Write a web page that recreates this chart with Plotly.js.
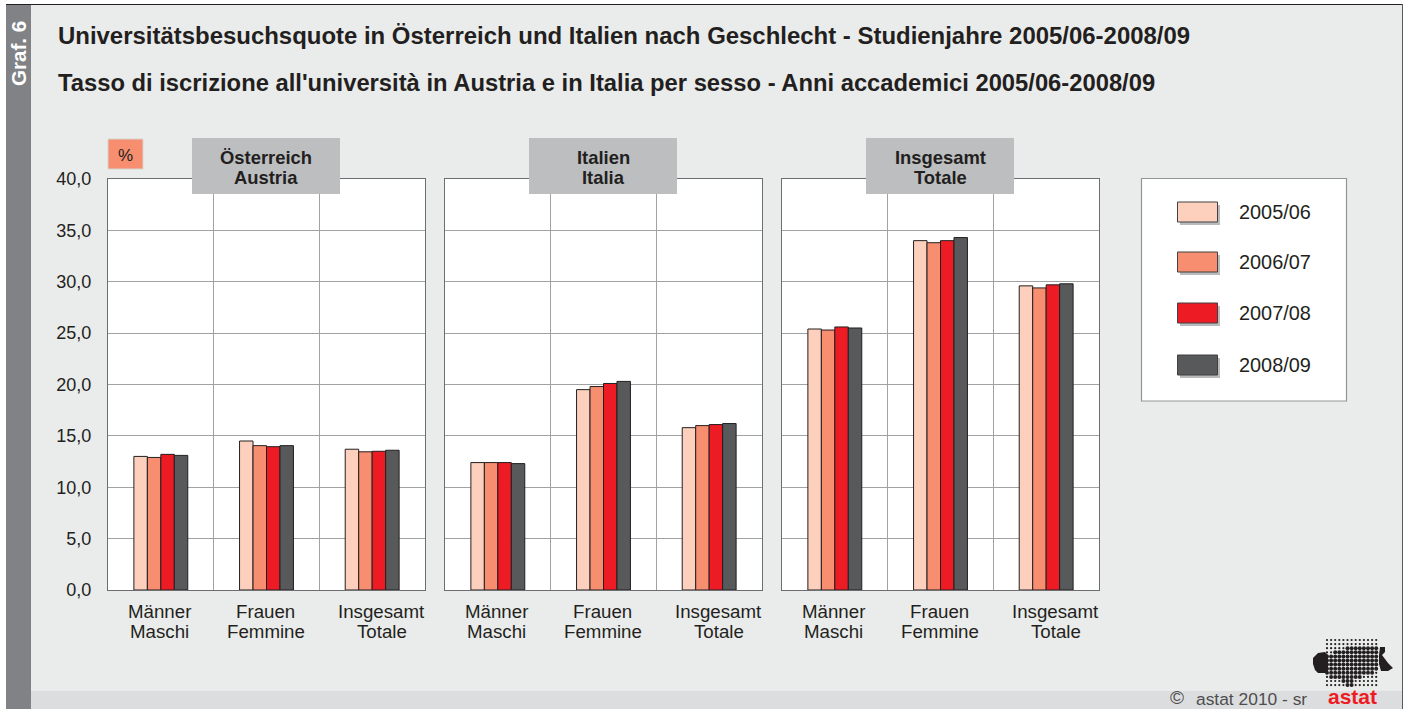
<!DOCTYPE html>
<html><head><meta charset="utf-8">
<script src="https://cdn.plot.ly/plotly-3.0.1.min.js"></script>
<style>html,body{margin:0;padding:0;background:#fff;overflow:hidden}</style>
</head><body><div id="chart" style="width:1406px;height:709px"></div>
<script>
const categories = ['Männer', 'Frauen', 'Insgesamt'];
const categoriesIt = ['Maschi', 'Femmine', 'Totale'];
const seriesNames = ['2005/06', '2006/07', '2007/08', '2008/09'];
const seriesColors = ['#fdd0bd', '#f68e6f', '#ed1c24', '#58595b'];
const panelDe = ['Österreich', 'Italien', 'Insgesamt'];
const panelIt = ['Austria', 'Italia', 'Totale'];
const austria = [[13.0, 14.5, 13.7], [12.9, 14.05, 13.45], [13.2, 13.95, 13.5], [13.1, 14.05, 13.6]];
const italy = [[12.4, 19.5, 15.8], [12.4, 19.8, 16.0], [12.4, 20.1, 16.1], [12.3, 20.3, 16.2]];
const total = [[25.4, 34.0, 29.6], [25.3, 33.8, 29.4], [25.6, 34.0, 29.7], [25.5, 34.3, 29.8]];
const panels = [austria, italy, total];
const titleDe = 'Universitätsbesuchsquote in Österreich und Italien nach Geschlecht - Studienjahre 2005/06-2008/09';
const titleIt = "Tasso di iscrizione all'università in Austria e in Italia per sesso - Anni accademici 2005/06-2008/09";

const W = 1406, H = 709, FONT = 'Liberation Sans, Arial, sans-serif', INK = '#231f20';
const px = x => x / W, py = y => 1 - y / H;
const panelLeft = [108, 445, 782], panelW = 317, plotTop = 179, plotBottom = 590;

function rect(x0, y0, x1, y1, fill, line, layer, lw) {
  return {type: 'rect', xref: 'paper', yref: 'paper', x0: px(x0), x1: px(x1), y0: py(y0), y1: py(y1),
    fillcolor: fill, line: {color: line || fill, width: line ? (lw || 1) : 0}, layer: layer || 'above'};
}
function note(x, y, text, size, color, anchor, extra) {
  return Object.assign({xref: 'paper', yref: 'paper', x: px(x), y: py(y), text, showarrow: false,
    xanchor: anchor || 'left', yanchor: 'middle', font: {family: FONT, size, color: color || INK}}, extra || {});
}

const traces = [];
const layout = {
  width: W, height: H, margin: {l: 0, r: 0, t: 0, b: 0}, showlegend: false,
  paper_bgcolor: '#eaeceb', plot_bgcolor: '#ffffff', separators: ',.',
  barmode: 'group', bargap: 0.49, bargroupgap: 0,
  title: {text: '<b>' + titleDe + '</b>', x: 58 / W, xanchor: 'left', y: py(36), yanchor: 'middle',
    font: {family: FONT, size: 23.94, color: INK}},
  shapes: [], annotations: []
};
const sh = layout.shapes, an = layout.annotations;

panels.forEach((panel, p) => {
  const s = p === 0 ? '' : String(p + 1);
  panel.forEach((vals, i) => traces.push({
    type: 'bar', x: categories, y: vals, name: seriesNames[i], xaxis: 'x' + s, yaxis: 'y' + s,
    marker: {color: seriesColors[i], line: {color: INK, width: 1}}, hoverinfo: 'x+y+name'
  }));
  layout['xaxis' + s] = {
    domain: [px(panelLeft[p]), px(panelLeft[p] + panelW)], anchor: 'y' + s, type: 'category',
    range: [-0.5, 2.5], autorange: false,
    tickson: 'boundaries', ticks: '', showticklabels: false, showgrid: true, gridcolor: '#a0a2a4', gridwidth: 1,
    showline: true, mirror: true, linecolor: '#6d6e71', linewidth: 1, zeroline: false
  };
  layout['yaxis' + s] = {
    domain: [py(plotBottom), py(plotTop)], anchor: 'x' + s, range: [0, 40], dtick: 5, tick0: 0,
    tickformat: '.1f', showticklabels: p === 0, ticks: '', showgrid: true, gridcolor: '#a0a2a4', gridwidth: 1,
    showline: true, mirror: true, linecolor: '#6d6e71', linewidth: 1, zeroline: false, ticklabelstandoff: 12,
    tickfont: {family: FONT, size: 18, color: INK}, automargin: false
  };
  categories.forEach((c, k) => {
    const shift = k === 2 ? 9.6 : -0.9;
    const base = {xref: 'x' + s, yref: 'paper', x: c, showarrow: false, xanchor: 'center', yanchor: 'middle',
      xshift: shift, font: {family: FONT, size: 18.7, color: INK}};
    an.push(Object.assign({}, base, {y: py(611), text: c}));
    an.push(Object.assign({}, base, {y: py(631.5), text: categoriesIt[k]}));
  });
});

// page frame
sh.push(rect(0, 0, 6, 709, '#ffffff', null, 'below'));
sh.push(rect(0, 0, 1406, 4, '#ffffff', null, 'below'));
sh.push(rect(1403, 0, 1406, 709, '#ffffff', null, 'below'));
sh.push(rect(6, 691, 1402, 709, '#dcddde', null, 'below'));
sh.push(rect(6, 4, 31, 709, '#808285', null, 'below'));
sh.push(rect(6, 4, 1402, 5, '#231f20', null, 'below'));
sh.push(rect(1402, 4, 1403, 709, '#58595b', null, 'below'));
// unit + panel labels
sh.push(rect(108, 139, 143, 169, '#f68e6f', '#d8d4d0'));
an.push(note(125.5, 155, '%', 17, INK, 'center'));
panelLeft.forEach((l, p) => {
  sh.push(rect(l + 84, 138, l + 232, 194, '#bcbec0'));
  an.push(note(l + 158, 157, '<b>' + panelDe[p] + '</b>', 18.4, INK, 'center'));
  an.push(note(l + 158, 177, '<b>' + panelIt[p] + '</b>', 18.4, INK, 'center'));
});
// legend
sh.push(rect(1141.5, 178.5, 1346.5, 401, '#ffffff', '#939598', 'above', 1.2));
const legendY = [212, 262, 313, 365];
seriesNames.forEach((n, i) => {
  const y = legendY[i];
  sh.push(rect(1180, y - 7, 1220, y + 13, '#b9babc'));
  sh.push(rect(1177.5, y - 10, 1217.5, y + 10, seriesColors[i], '#414042'));
  an.push(note(1237, y, n, 19.9, INK));
});
// texts
an.push(note(56, 82, '<b>' + titleIt + '</b>', 23.77));
an.push(note(18.5, 53.5, '<b>Graf. 6</b>', 20.6, '#ffffff', 'center', {textangle: -90}));
an.push(note(1167.5, 697.5, '©', 19, '#4d4d4f'));
an.push(note(1193.5, 698.5, 'astat 2010 - sr', 17.4, '#4d4d4f'));
an.push(note(1352, 696.5, '<b>astat</b>', 21, '#ed1c24', 'center'));

// logo decoration
const blob = [[1313,657],[1325,652],[1329,655],[1338,650],[1357,646],[1383,646],[1385,652],[1382,655],[1388,663],[1393,668],[1383,672],[1377,670],[1370,675],[1357,678],[1352,687],[1347,690],[1343,682],[1330,677],[1317,673],[1313,665]];
const inside = (x, y) => {
  let c = false;
  for (let i = 0, j = blob.length - 1; i < blob.length; j = i++) {
    const [xi, yi] = blob[i], [xj, yj] = blob[j];
    if ((yi > y) !== (yj > y) && x < (xj - xi) * (y - yi) / (yj - yi) + xi) c = !c;
  }
  return c;
};
for (let gx = 1327; gx <= 1378; gx += 4.1) for (let gy = 640; gy <= 688; gy += 4.1) {
  const r = inside(gx, gy) ? 2.0 : 1.1;
  sh.push({type: 'circle', xref: 'paper', yref: 'paper', x0: px(gx - r), x1: px(gx + r), y0: py(gy + r), y1: py(gy - r),
    fillcolor: '#231f20', line: {width: 0}, layer: 'above'});
}
const poly = pts => ({type: 'path', xref: 'paper', yref: 'paper', fillcolor: '#231f20', line: {width: 0}, layer: 'above',
  path: 'M' + pts.map(q => px(q[0]) + ',' + py(q[1])).join('L') + 'Z'});
sh.push(poly([[1313,658],[1318,653],[1325,652],[1328,655],[1328,673],[1318,673],[1315,670],[1313,664]]));
sh.push(poly([[1380,647],[1385,647],[1385,652],[1382,655],[1388,663],[1393,668],[1388,671],[1381,671],[1379,664],[1379,655]]));

Plotly.newPlot('chart', traces, layout, {displayModeBar: false, responsive: false});
</script></body></html>
